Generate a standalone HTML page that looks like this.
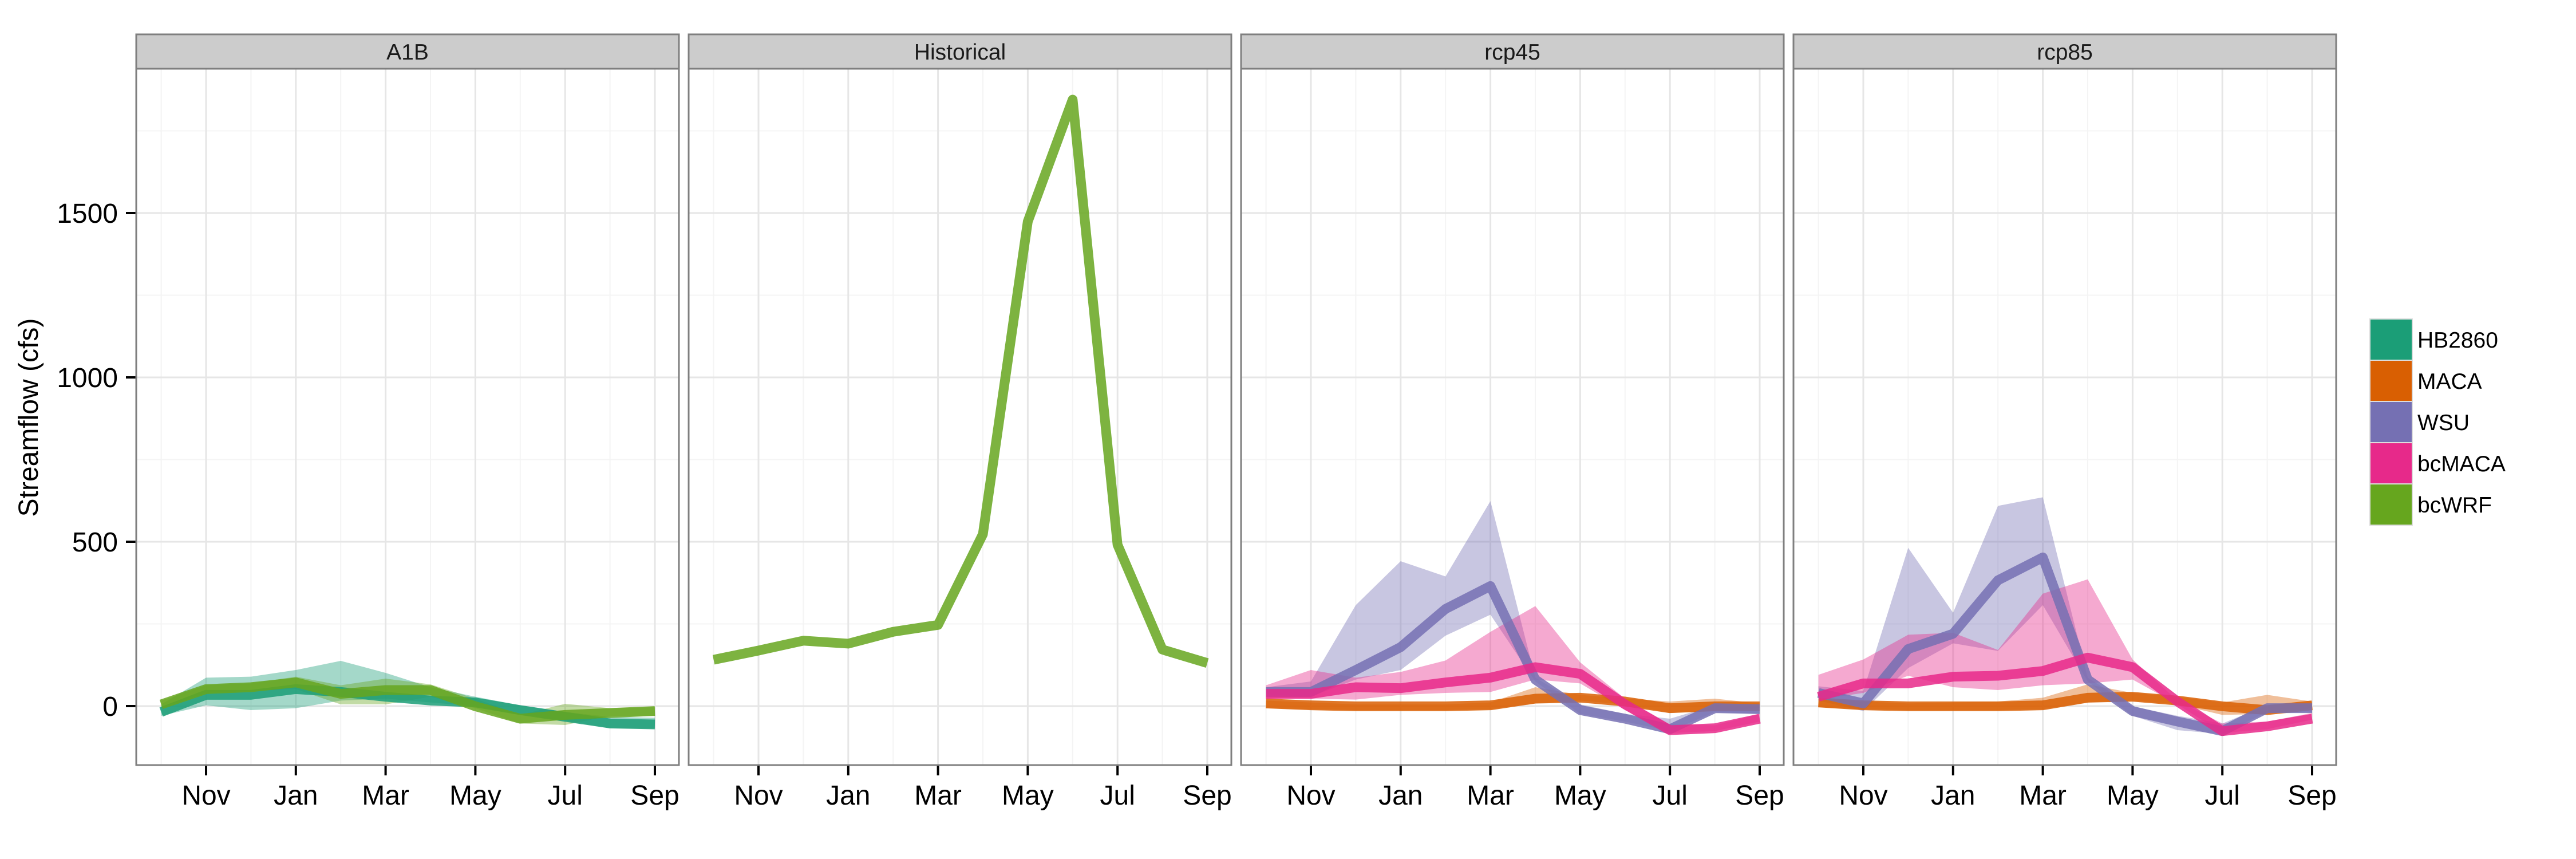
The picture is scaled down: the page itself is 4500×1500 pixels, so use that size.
<!DOCTYPE html>
<html><head><meta charset="utf-8"><style>html,body{margin:0;padding:0;background:#fff}svg{display:block}text{font-family:"Liberation Sans",sans-serif}</style></head>
<body>
<svg id="s" width="4500" height="1500" viewBox="0 0 4500 1500" xmlns="http://www.w3.org/2000/svg">
<rect width="4500" height="1500" fill="#fff"/>
<g id="g"></g>
<g font-size="39" text-anchor="middle" fill="#1a1a1a">
<text x="712" y="104">A1B</text>
<text x="1677" y="104">Historical</text>
<text x="2642" y="104">rcp45</text>
<text x="3607" y="104">rcp85</text>
</g>
<g font-size="48" text-anchor="end" fill="#000">
<text x="206" y="389">1500</text>
<text x="206" y="676">1000</text>
<text x="206" y="963">500</text>
<text x="206" y="1250">0</text>
</g>
<text font-size="48" transform="translate(66,729) rotate(-90)" text-anchor="middle">Streamflow (cfs)</text>
<g id="xl" font-size="48" text-anchor="middle" fill="#000"></g>
<g font-size="39" fill="#000">
<rect x="4140" y="557" width="74" height="72" fill="#1b9e77" stroke="#ddd" stroke-width="2"/>
<rect x="4140" y="629" width="74" height="72" fill="#d95f02" stroke="#ddd" stroke-width="2"/>
<rect x="4140" y="701" width="74" height="72" fill="#7570b3" stroke="#ddd" stroke-width="2"/>
<rect x="4140" y="773" width="74" height="72" fill="#e7298a" stroke="#ddd" stroke-width="2"/>
<rect x="4140" y="845" width="74" height="72" fill="#66a61e" stroke="#ddd" stroke-width="2"/>
<text x="4223" y="607">HB2860</text>
<text x="4223" y="679">MACA</text>
<text x="4223" y="751">WSU</text>
<text x="4223" y="823">bcMACA</text>
<text x="4223" y="895">bcWRF</text>
</g>
</svg>
<script>
var NS="http://www.w3.org/2000/svg",g=document.getElementById("g"),xl=document.getElementById("xl");
function el(t,a,p){var e=document.createElementNS(NS,t);for(var k in a)e.setAttribute(k,a[k]);(p||g).appendChild(e);return e;}
var L=[238,1203,2168,3133],W=948,T=120,B=1336;
function X(p,i){return L[p]+43.6+i*78.4;}
function oy(v){return 1050+v/3;}
function oy2(v){return 850+v/3;}
function hv(v){return 1233-v*0.574;}
var months=["Nov","Jan","Mar","May","Jul","Sep"];
for(var p=0;p<4;p++){
 el("rect",{x:L[p],y:T,width:W,height:B-T,fill:"#fff"});
 [228.5,515.5,802.5,1089.5].forEach(function(y){el("line",{x1:L[p],x2:L[p]+W,y1:y,y2:y,stroke:"#f4f4f4","stroke-width":2});});
 for(var i=0;i<12;i+=2)el("line",{x1:X(p,i),x2:X(p,i),y1:T,y2:B,stroke:"#f4f4f4","stroke-width":2});
 [372,659,946,1233].forEach(function(y){el("line",{x1:L[p],x2:L[p]+W,y1:y,y2:y,stroke:"#e6e6e6","stroke-width":3});});
 for(var i=1;i<12;i+=2){el("line",{x1:X(p,i),x2:X(p,i),y1:T,y2:B,stroke:"#e6e6e6","stroke-width":3});
  el("line",{x1:X(p,i),x2:X(p,i),y1:B,y2:B+18,stroke:"#000","stroke-width":4});
  var t=el("text",{x:X(p,i),y:1405},xl);t.textContent=months[(i-1)/2];}
}
for(var k=0;k<4;k++){var y=[372,659,946,1233][k];el("line",{x1:220,x2:238,y1:y,y2:y,stroke:"#000","stroke-width":4});}
function ribbon(p,up,lo,f,col){var d="";for(var i=0;i<12;i++)d+=(i?"L":"M")+X(p,i)+","+f(up[i]);for(var i=11;i>=0;i--)d+="L"+X(p,i)+","+f(lo[i]);el("path",{d:d+"Z",fill:col,"fill-opacity":0.4});}
function line(p,v,f,col){var d="";for(var i=0;i<12;i++)d+=(i?"L":"M")+X(p,i)+","+f(v[i]);el("path",{d:d,fill:"none",stroke:col,"stroke-opacity":0.85,"stroke-width":17,"stroke-linejoin":"round"});}
var HB="#1b9e77",MA="#d95f02",WS="#7570b3",BM="#e7298a",BW="#66a61e";
ribbon(0,[540,400,395,360,312,375,450,500,545,580,605,610],[600,545,570,560,520,510,530,550,595,625,665,665],oy,HB);
ribbon(0,[520,440,430,395,440,405,435,510,595,537,560,555],[560,480,470,460,540,540,500,560,640,648,600,600],oy,BW);
line(0,[580,490,490,460,475,500,520,530,570,605,640,645],oy,HB);
line(0,[540,460,450,425,485,465,465,550,615,595,585,575],oy,BW);
line(1,[141,169,199,190,226,247,523,1474,1845,491,172,131],hv,BW);
ribbon(2,[1120,1130,1140,1140,1140,1130,1050,1090,1110,1125,1110,1135],[1160,1165,1170,1170,1170,1165,1135,1120,1140,1185,1175,1160],oy2,MA);
ribbon(2,[1050,1020,620,390,470,75,1000,1140,1190,1215,1145,1150],[1085,1100,1010,960,780,670,1020,1190,1230,1280,1180,1190],oy2,WS);
ribbon(2,[1040,960,1000,970,910,760,625,920,1110,1245,1250,1190],[1110,1110,1115,1090,1080,1075,1010,1030,1170,1290,1280,1230],oy2,BM);
line(2,[1135,1145,1150,1150,1150,1145,1110,1105,1125,1160,1150,1150],oy2,MA);
line(2,[1075,1075,960,840,640,520,1010,1170,1215,1270,1160,1165],oy2,WS);
line(2,[1085,1085,1050,1055,1025,1000,945,980,1140,1275,1265,1215],oy2,BM);
ribbon(3,[1110,1125,1135,1130,1125,1105,1035,1080,1100,1130,1090,1125],[1155,1165,1170,1170,1170,1165,1130,1120,1140,1195,1190,1160],oy2,MA);
ribbon(3,[1045,1070,320,660,100,55,1000,1150,1200,1240,1145,1145],[1120,1175,950,820,860,620,1020,1200,1275,1295,1180,1180],oy2,WS);
ribbon(3,[985,905,775,765,855,560,485,905,1120,1240,1230,1185],[1115,1080,990,1050,1065,1040,1030,1010,1140,1290,1270,1220],oy2,BM);
line(3,[1130,1145,1150,1150,1150,1145,1105,1100,1120,1150,1170,1145],oy2,MA);
line(3,[1080,1135,850,770,490,370,1010,1175,1230,1280,1160,1160],oy2,WS);
line(3,[1100,1030,1030,995,990,965,895,945,1125,1280,1255,1215],oy2,BM);
for(var p=0;p<4;p++){
 el("rect",{x:L[p],y:T,width:W,height:B-T,fill:"none",stroke:"#7f7f7f","stroke-width":3});
 el("rect",{x:L[p],y:60,width:W,height:60,fill:"#cccccc",stroke:"#7f7f7f","stroke-width":3});
}
</script>
</body></html>
